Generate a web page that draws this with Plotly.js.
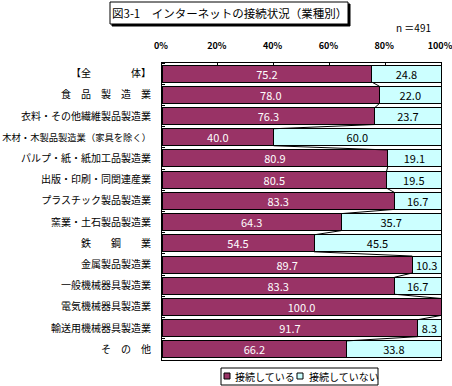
<!DOCTYPE html>
<html>
<head>
<meta charset="utf-8">
<script src="https://cdn.plot.ly/plotly-3.0.1.min.js"></script>
<style>html,body{margin:0;padding:0;background:#fff;}#chart{width:452px;height:386px;}</style>
</head>
<body>
<div id="chart"></div>
<script>
const categories = ["【全　　　　体】", "食　品　製　造　業", "衣料・その他繊維製品製造業", "木材・木製品製造業（家具を除く）", "パルプ・紙・紙加工品製造業", "出版・印刷・同関連産業", "プラスチック製品製造業", "窯業・土石製品製造業", "鉄　　鋼　　業", "金属製品製造業", "一般機械器具製造業", "電気機械器具製造業", "輸送用機械器具製造業", "そ　の　他"];
const connected = [75.2, 78.0, 76.3, 40.0, 80.9, 80.5, 83.3, 64.3, 54.5, 89.7, 83.3, 100.0, 91.7, 66.2];
const notConnected = [24.8, 22.0, 23.7, 60.0, 19.1, 19.5, 16.7, 35.7, 45.5, 10.3, 16.7, 0.0, 8.3, 33.8];
const seriesNames = ["接続している", "接続していない"];
const seriesColors = ['#993366', '#CCFFFF'];
const xTicks = [0, 20, 40, 60, 80, 100];

const FONT = '"Noto Sans CJK JP", "Noto Sans", sans-serif';
const idx = categories.map((c, i) => i);
const half = 0.4;

// plot-area geometry helpers for decorations (title box, legend box)
const L = 162, R = 441, T = 63, B = 360;
const px2x = p => (p - L) / (R - L);
const px2y = p => (B - p) / (B - T);

// series lines between consecutive bars (at segment boundary)
const slX = [], slY = [];
for (let i = 0; i < categories.length - 1; i++) {
  slX.push(connected[i], connected[i + 1], null);
  slY.push(i + half, i + 1 - half, null);
}

const tickText = categories.map(c => c.length > 14 ? '<span style="font-size:9.3px">' + c + '</span>' : c);

const traces = [
  {
    type: 'bar', orientation: 'h', name: seriesNames[0],
    y: idx, x: connected, width: 0.8,
    marker: {color: seriesColors[0], line: {color: '#000', width: 1}},
    text: connected.map(v => v > 0 ? v.toFixed(1) : ''),
    textposition: 'inside', insidetextanchor: 'middle', constraintext: 'none', textangle: 0,
    textfont: {color: '#fff', size: 11, family: FONT},
    hoverinfo: 'skip', showlegend: false
  },
  {
    type: 'bar', orientation: 'h', name: seriesNames[1],
    y: idx, x: notConnected, width: 0.8,
    marker: {color: seriesColors[1], line: {color: '#000', width: 1}},
    text: notConnected.map(v => v > 0 ? v.toFixed(1) : ''),
    textposition: 'inside', insidetextanchor: 'middle', constraintext: 'none', textangle: 0,
    textfont: {color: '#000', size: 11, family: FONT},
    hoverinfo: 'skip', showlegend: false
  },
  {
    type: 'scatter', mode: 'lines', x: slX, y: slY, showlegend: false,
    line: {color: '#000', width: 1}, hoverinfo: 'skip'
  }
];

// legend (drawn as a framed box with swatches and texts)
const legendItems = [
  {sw: 224, tx: 233},
  {sw: 297, tx: 307}
];
const legendShapes = [
  {type: 'rect', xref: 'paper', yref: 'paper', x0: px2x(221), x1: px2x(378), y0: px2y(385), y1: px2y(368),
   fillcolor: '#fff', line: {color: '#000', width: 1}}
];
const legendAnns = [];
legendItems.forEach((it, k) => {
  legendShapes.push({type: 'rect', xref: 'paper', yref: 'paper',
    x0: px2x(it.sw), x1: px2x(it.sw + 6), y0: px2y(379), y1: px2y(373),
    fillcolor: seriesColors[k], line: {color: '#000', width: 1}});
  legendAnns.push({xref: 'paper', yref: 'paper', x: px2x(it.tx), y: px2y(376.5),
    xanchor: 'left', yanchor: 'middle', text: seriesNames[k], showarrow: false,
    font: {size: 10, family: FONT, color: '#000'}});
});

const layout = {
  width: 452, height: 386,
  margin: {l: L, r: 452 - R, t: T, b: 386 - B, pad: 0},
  paper_bgcolor: '#fff', plot_bgcolor: '#fff',
  barmode: 'stack', bargap: 0.2,
  font: {family: FONT, size: 10, color: '#000'},
  showlegend: false,
  xaxis: {
    side: 'top', range: [0, 100], tickvals: xTicks, ticktext: xTicks.map(v => v + '%'),
    ticks: 'inside', ticklen: 3, tickcolor: '#000',
    showgrid: false, zeroline: false,
    showline: true, linecolor: '#000', linewidth: 1, mirror: true,
    tickfont: {size: 9, family: FONT, weight: 'bold'},
    ticklabelstandoff: 9, ticklabelshift: -1, ticklabeloverflow: 'allow', fixedrange: true
  },
  yaxis: {
    range: [categories.length - 0.5, -0.5],
    tickvals: idx, ticktext: tickText,
    ticks: '', showgrid: false, zeroline: false,
    showline: true, linecolor: '#000', linewidth: 1, mirror: true,
    tickfont: {size: 10, family: FONT},
    ticklabelstandoff: 8, ticklabeloverflow: 'allow',
    minor: {tick0: 0.5, dtick: 1, ticks: 'inside', ticklen: 3, tickcolor: '#000', showgrid: false},
    fixedrange: true
  },
  shapes: [
    {type: 'rect', xref: 'paper', yref: 'paper', x0: px2x(112), x1: px2x(350), y0: px2y(4), y1: px2y(26),
     fillcolor: '#000', line: {color: '#000', width: 1}},
    {type: 'rect', xref: 'paper', yref: 'paper', x0: px2x(110), x1: px2x(348), y0: px2y(2), y1: px2y(24),
     fillcolor: '#fff', line: {color: '#000', width: 1}}
  ].concat(legendShapes),
  annotations: [
    {
      xref: 'paper', yref: 'paper', x: px2x(229), y: px2y(13), xanchor: 'center', yanchor: 'middle',
      text: '図3-1　インターネットの接続状況（業種別）', showarrow: false,
      font: {size: 11.5, family: FONT, color: '#000'}
    },
    {
      xref: 'paper', yref: 'paper', x: px2x(433), y: px2y(28), xanchor: 'right', yanchor: 'middle',
      text: 'n ＝491', showarrow: false, font: {size: 10, family: FONT}
    }
  ].concat(legendAnns)
};

Plotly.newPlot('chart', traces, layout, {displayModeBar: false, staticPlot: true});
</script>
</body>
</html>
